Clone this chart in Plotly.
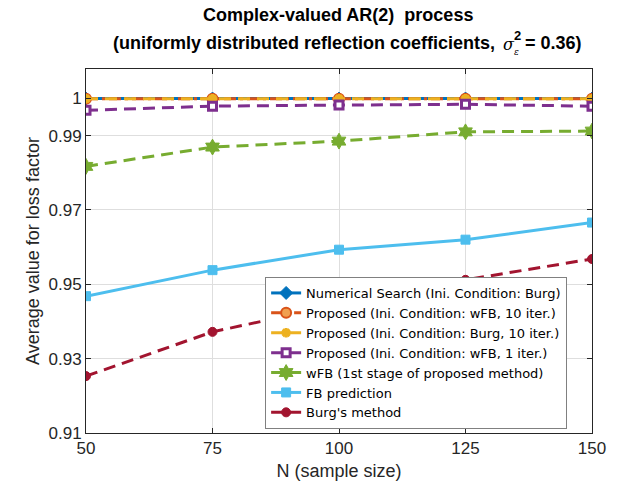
import plotly.graph_objects as go

N = [50, 75, 100, 125, 150]
numerical_search = [0.99995, 0.99995, 0.99995, 0.99995, 0.99995]
prop_wfb_10 = [0.99990, 0.99990, 0.99990, 0.99990, 0.99990]
prop_burg_10 = [0.99990, 0.99990, 0.99990, 0.99990, 0.99990]
prop_wfb_1 = [0.9968, 0.9979, 0.9982, 0.9984, 0.9979]
wfb = [0.9817, 0.9869, 0.9885, 0.9910, 0.9912]
fb_pred = [0.9468, 0.9538, 0.9593, 0.9620, 0.9666]
burg = [0.9253, 0.9372, 0.9445, 0.9512, 0.9568]

names = [
    "Numerical Search (Ini. Condition: Burg)",
    "Proposed (Ini. Condition: wFB, 10 iter.)",
    "Proposed (Ini. Condition: Burg, 10 iter.)",
    "Proposed (Ini. Condition: wFB, 1 iter.)",
    "wFB (1st stage of proposed method)",
    "FB prediction",
    "Burg's method",
]
series = [numerical_search, prop_wfb_10, prop_burg_10, prop_wfb_1, wfb, fb_pred, burg]
colors = ["#0072BD", "#D95319", "#EDB120", "#7E2F8E", "#77AC30", "#4DBEEE", "#A2142F"]
dashes = ["solid", "12px,4px,3px,4px", "12px,7px", "12px,7px", "12px,7px", "solid", "12px,7px"]
symbols = ["diamond", "circle", "x-thin", "square", "hexagram", "square", "circle"]
sizes = [10, 10, 8, 8, 12, 9, 9]

fig = go.Figure()
for nm, ys, c, d, s, sz in zip(names, series, colors, dashes, symbols, sizes):
    if s == "circle" and c == "#D95319":
        marker = dict(symbol="circle", size=sz, color="#F0A050", line=dict(color=c, width=2))
    elif s == "square" and c == "#7E2F8E":
        marker = dict(symbol="square", size=sz, color="white", line=dict(color=c, width=3))
    elif s == "x-thin":
        marker = dict(symbol="asterisk", size=sz, color=c, line=dict(color=c, width=3))
    else:
        marker = dict(symbol=s, size=sz, color=c, line=dict(color=c, width=1))
    fig.add_trace(go.Scatter(
        x=N, y=ys, name=nm, mode="lines+markers",
        line=dict(color=c, width=3, dash=d),
        marker=marker,
    ))

font = "Liberation Sans, Arial, Helvetica, sans-serif"

fig.update_layout(
    width=625, height=493,
    margin=dict(l=86, r=33, t=69, b=60),
    paper_bgcolor="white", plot_bgcolor="white",
    font=dict(family=font, size=17, color="#262626"),
    showlegend=True,
    legend=dict(
        x=0.354, y=0.4286, xanchor="left", yanchor="top",
        bgcolor="white", bordercolor="#808080", borderwidth=1,
        font=dict(family="DejaVu Sans, sans-serif", size=13, color="#000000"),
        tracegroupgap=0, itemwidth=30,
    ),
)
fig.update_xaxes(
    range=[50, 150], tickvals=N, ticktext=[str(v) for v in N],
    showgrid=True, gridcolor="#DEDEDE", gridwidth=1,
    showline=True, linecolor="#262626", linewidth=1, mirror="allticks",
    ticks="inside", ticklen=5, tickcolor="#262626",
    title=dict(text="N (sample size)", font=dict(size=18), standoff=6),
    zeroline=False,
)
fig.update_yaxes(
    range=[0.91, 1.0079],
    tickvals=[0.91, 0.93, 0.95, 0.97, 0.99, 1.0],
    ticktext=["0.91", "0.93", "0.95", "0.97", "0.99", "1"],
    showgrid=True, gridcolor="#DEDEDE", gridwidth=1,
    showline=True, linecolor="#262626", linewidth=1, mirror="allticks",
    ticks="inside", ticklen=5, tickcolor="#262626",
    title=dict(text="Average value for loss factor", font=dict(size=18), standoff=4),
    zeroline=False,
)

def px_x(p):
    return (p - 86) / 506

def px_y(p):
    return (433 - p) / 364

bold = dict(family=font, size=18, color="#000000")
fig.add_annotation(x=px_x(338), y=px_y(15), xref="paper", yref="paper",
                   text="<b>Complex-valued AR(2)  process</b>", showarrow=False,
                   font=bold, xanchor="center", yanchor="middle")
fig.add_annotation(x=px_x(502), y=px_y(43), xref="paper", yref="paper",
                   text="<b>(uniformly distributed reflection coefficients, </b>", showarrow=False,
                   font=bold, xanchor="right", yanchor="middle")
fig.add_annotation(x=px_x(501), y=px_y(44), xref="paper", yref="paper",
                   text="<i>σ</i>", showarrow=False,
                   font=dict(family="DejaVu Serif, serif", size=16, color="#000000"),
                   xanchor="left", yanchor="middle")
fig.add_annotation(x=px_x(512), y=px_y(35), xref="paper", yref="paper",
                   text="<b>2</b>", showarrow=False,
                   font=dict(family=font, size=13, color="#000000"),
                   xanchor="left", yanchor="middle")
fig.add_annotation(x=px_x(512), y=px_y(52), xref="paper", yref="paper",
                   text="<i>ε</i>", showarrow=False,
                   font=dict(family="DejaVu Serif, serif", size=9, color="#000000"),
                   xanchor="left", yanchor="middle")
fig.add_annotation(x=px_x(523), y=px_y(43), xref="paper", yref="paper",
                   text="<b>= 0.36)</b>", showarrow=False,
                   font=bold, xanchor="left", yanchor="middle")

fig.write_html("out.html")
